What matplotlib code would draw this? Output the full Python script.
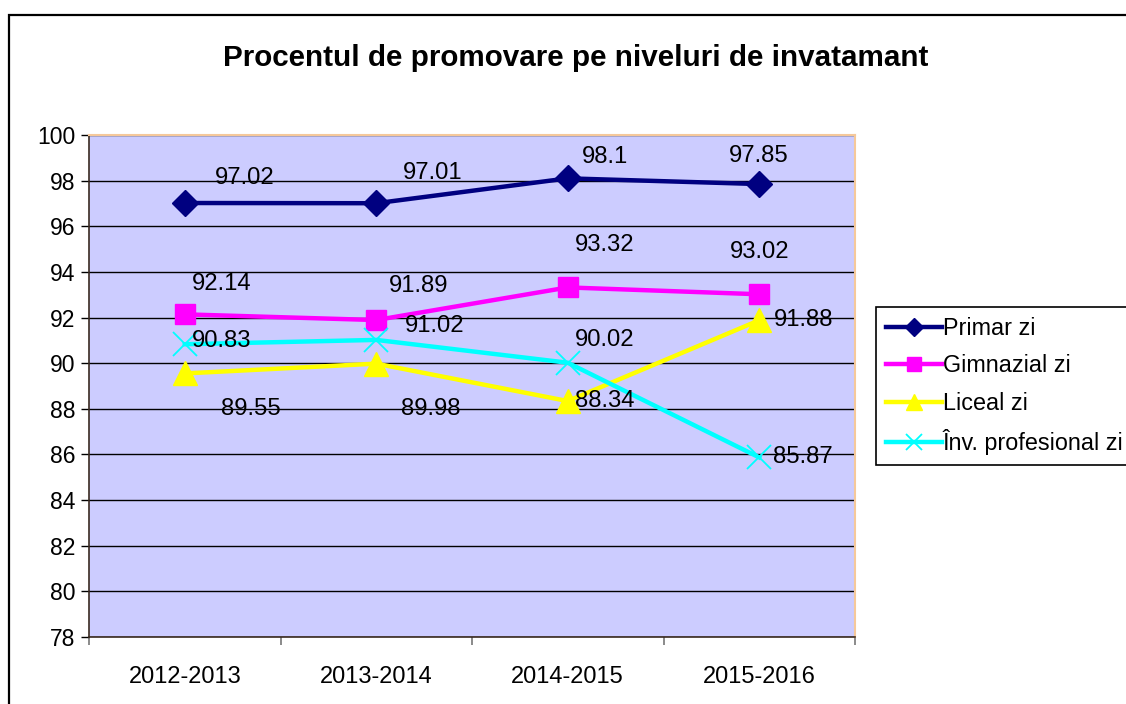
import matplotlib
matplotlib.use("Agg")
import matplotlib.pyplot as plt
from matplotlib.patches import Rectangle

plt.rcParams['font.family'] = ['Liberation Sans', 'DejaVu Sans']

categories = ["2012-2013", "2013-2014", "2014-2015", "2015-2016"]
primar = [97.02, 97.01, 98.1, 97.85]
gimnazial = [92.14, 91.89, 93.32, 93.02]
liceal = [89.55, 89.98, 88.34, 91.88]
profesional = [90.83, 91.02, 90.02, 85.87]
series_names = ["Primar zi", "Gimnazial zi", "Liceal zi", "Înv. profesional zi"]
title = "Procentul de promovare pe niveluri de invatamant"
yticks = list(range(78, 101, 2))

# label offsets in pixels (dx, dy; dy positive = down in image)
label_offsets = [
    [(60, -25), (56, -30), (37, -21), (0, -28)],
    [(37, -30), (42, -34), (37, -42), (0, -42)],
    [(66, 36), (54, 45), (37, 0), (44, 0)],
    [(37, -3), (58, -14), (37, -23), (44, 0)],
]

W, H = 1126, 704
fig = plt.figure(figsize=(W / 100, H / 100), dpi=100)
fig.patch.set_facecolor("white")

# outer frame
fig.patches.append(Rectangle((9 / W, -0.2), 1.5, 1.2 - 15 / H, transform=fig.transFigure,
                             fill=False, edgecolor="black", linewidth=1.6, zorder=0))

ax = fig.add_axes([89 / W, 1 - 637 / H, (855 - 89) / W, (637 - 135) / H])
ax.set_facecolor("#CCCCFF")

x = list(range(len(categories)))
styles = [
    dict(color="#000080", marker="D", markersize=13),
    dict(color="#FF00FF", marker="s", markersize=15),
    dict(color="#FFFF00", marker="^", markersize=17),
    dict(color="#00FFFF", marker="x", markersize=17, markeredgewidth=1.3),
]
legend_ms = [9, 10, 11, 12]
data = [primar, gimnazial, liceal, profesional]
for vals, name, st, offs in zip(data, series_names, styles, label_offsets):
    ax.plot(x, vals, linewidth=3.2, label=name, zorder=3, **st)
    for xi, v, (dx, dy) in zip(x, vals, offs):
        ax.annotate(f"{v:g}", (xi, v), xytext=(dx, -dy), textcoords="offset pixels",
                    ha="center", va="center", fontsize=17.2, color="black", zorder=4)

ax.set_xlim(-0.5, len(categories) - 0.5)
ax.set_ylim(78, 100)
ax.set_yticks(yticks)
ax.set_yticklabels([str(t) for t in yticks], fontsize=16.5)
ax.set_xticks(x)
ax.set_xticklabels(categories, fontsize=17)
ax.set_xticks([i - 0.5 for i in range(len(categories) + 1)], minor=True)
ax.tick_params(axis="x", which="major", length=0, pad=21)
ax.tick_params(axis="x", which="minor", length=6, color="#777777", width=1.2)
ax.tick_params(axis="y", which="major", length=6, width=1, pad=4)
ax.yaxis.grid(True, color="black", linewidth=1)
ax.set_axisbelow(True)

for s in ["top", "right"]:
    ax.spines[s].set_color("#F5C89A")
    ax.spines[s].set_linewidth(1.5)
for s in ["left", "bottom"]:
    ax.spines[s].set_color("#3A2A20")
    ax.spines[s].set_linewidth(1.2)

fig.text(576 / W, 1 - 58 / H, title, ha="center", va="center", fontsize=21.3, fontweight="bold")

leg = ax.legend(loc="upper left", bbox_to_anchor=(876 / W, 1 - 307 / H), bbox_transform=fig.transFigure,
                fontsize=16.8, frameon=True, fancybox=False, edgecolor="black", framealpha=1,
                handlelength=2.4, handletextpad=0.05, labelspacing=0.62, borderpad=0.42,
                borderaxespad=0)
leg.get_frame().set_linewidth(1.2)
for h, ms in zip(leg.legend_handles, legend_ms):
    h.set_markersize(ms)

fig.savefig("out.png", dpi=100)
